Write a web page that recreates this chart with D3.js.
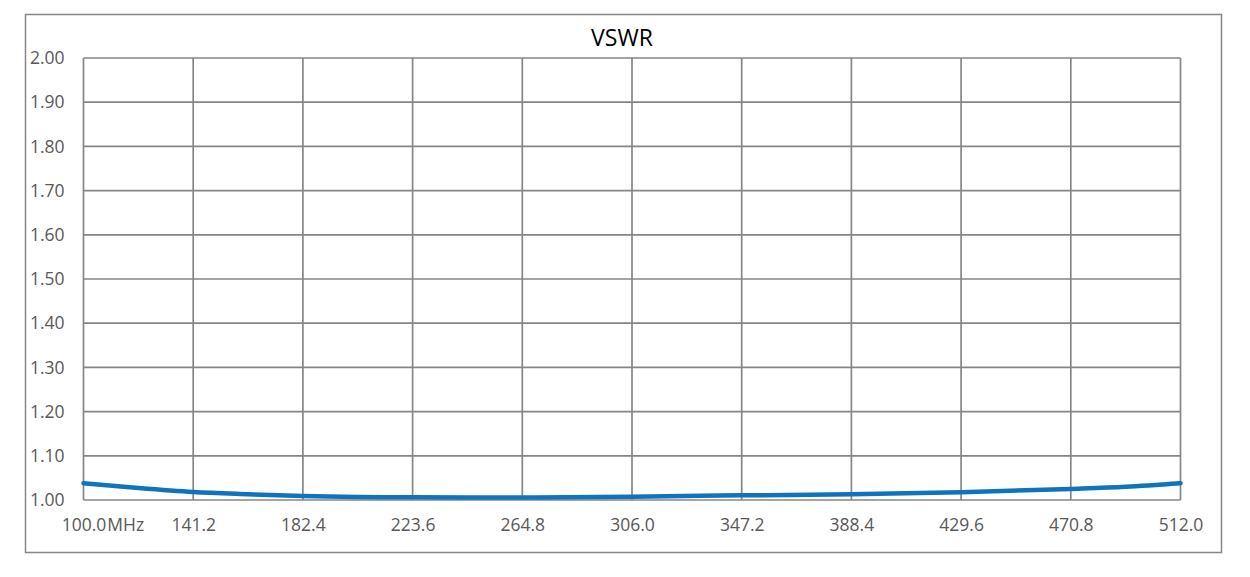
<!DOCTYPE html>
<html>
<head>
<meta charset="utf-8">
<script src="https://cdn.jsdelivr.net/npm/d3@7"></script>
<style>
  body { margin: 0; background: #fff; }
  text { font-family: "Open Sans", sans-serif; }
</style>
</head>
<body>
<div id="chart"></div>
<script>
var freqTicks = [100.0, 141.2, 182.4, 223.6, 264.8, 306.0, 347.2, 388.4, 429.6, 470.8, 512.0];
var vswrTicks = [1.00, 1.10, 1.20, 1.30, 1.40, 1.50, 1.60, 1.70, 1.80, 1.90, 2.00];
var freqs = [100.0, 120.6, 141.2, 161.8, 182.4, 223.6, 264.8, 306.0, 347.2, 388.4, 429.6, 470.8, 491.4, 512.0];
var vswr = [1.038, 1.027, 1.018, 1.013, 1.009, 1.006, 1.0058, 1.0075, 1.0105, 1.013, 1.0175, 1.025, 1.030, 1.038];

var W = 1250, H = 577;
var margin = { top: 58, right: 69.5, bottom: 77, left: 83.5 };
var width = W - margin.left - margin.right;
var height = H - margin.top - margin.bottom;

var svg = d3.select('#chart')
  .append('svg')
  .attr('width', W)
  .attr('height', H);

// outer frame
svg.append('rect')
  .attr('x', 25.5).attr('y', 14.5)
  .attr('width', 1196).attr('height', 538)
  .attr('fill', 'none')
  .attr('stroke', '#868686')
  .attr('stroke-width', 1.5);

svg.append('text')
  .attr('x', 622).attr('y', 46)
  .attr('text-anchor', 'middle')
  .attr('font-size', 23)
  .attr('fill', '#000')
  .text('VSWR');

var g = svg.append('g')
  .attr('transform', 'translate(' + margin.left + ',' + margin.top + ')');

var x = d3.scaleLinear().domain([100, 512]).range([0, width]);
var y = d3.scaleLinear().domain([1, 2]).range([height, 0]);

// grid
g.selectAll('.vgrid').data(freqTicks).enter().append('line')
  .attr('x1', function(d) { return x(d); })
  .attr('x2', function(d) { return x(d); })
  .attr('y1', 0).attr('y2', height)
  .attr('stroke', '#868686').attr('stroke-width', 1.7);

g.selectAll('.hgrid').data(vswrTicks).enter().append('line')
  .attr('y1', function(d) { return y(d); })
  .attr('y2', function(d) { return y(d); })
  .attr('x1', 0).attr('x2', width)
  .attr('stroke', '#868686').attr('stroke-width', 1.7);

// axes (labels only)
var yAxis = g.append('g')
  .call(d3.axisLeft(y).tickValues(vswrTicks).tickFormat(d3.format('.2f')).tickSize(0).tickPadding(19));
yAxis.select('.domain').remove();
yAxis.selectAll('text')
  .attr('font-size', 17.5)
  .attr('fill', '#595959')
  .attr('font-family', '"Open Sans", sans-serif');

var xAxis = g.append('g')
  .attr('transform', 'translate(0,' + height + ')')
  .call(d3.axisBottom(x).tickValues(freqTicks).tickFormat(d3.format('.1f')).tickSize(0).tickPadding(19));
xAxis.select('.domain').remove();
xAxis.selectAll('text')
  .attr('font-size', 17.5)
  .attr('fill', '#595959')
  .attr('font-family', '"Open Sans", sans-serif');

// first label: number centred on tick, unit trailing
var first = xAxis.select('.tick text');
var w0 = first.node().getComputedTextLength();
first.attr('text-anchor', 'start').attr('x', -w0 / 2);
first.append('tspan').attr('dx', 1).text('MHz');

var line = d3.line()
  .x(function(d, i) { return x(freqs[i]); })
  .y(function(d) { return y(d); })
  .curve(d3.curveMonotoneX);

g.append('path')
  .datum(vswr)
  .attr('d', line)
  .attr('fill', 'none')
  .attr('stroke', '#0F74BD')
  .attr('stroke-width', 4.5)
  .attr('stroke-linecap', 'round');
</script>
</body>
</html>
